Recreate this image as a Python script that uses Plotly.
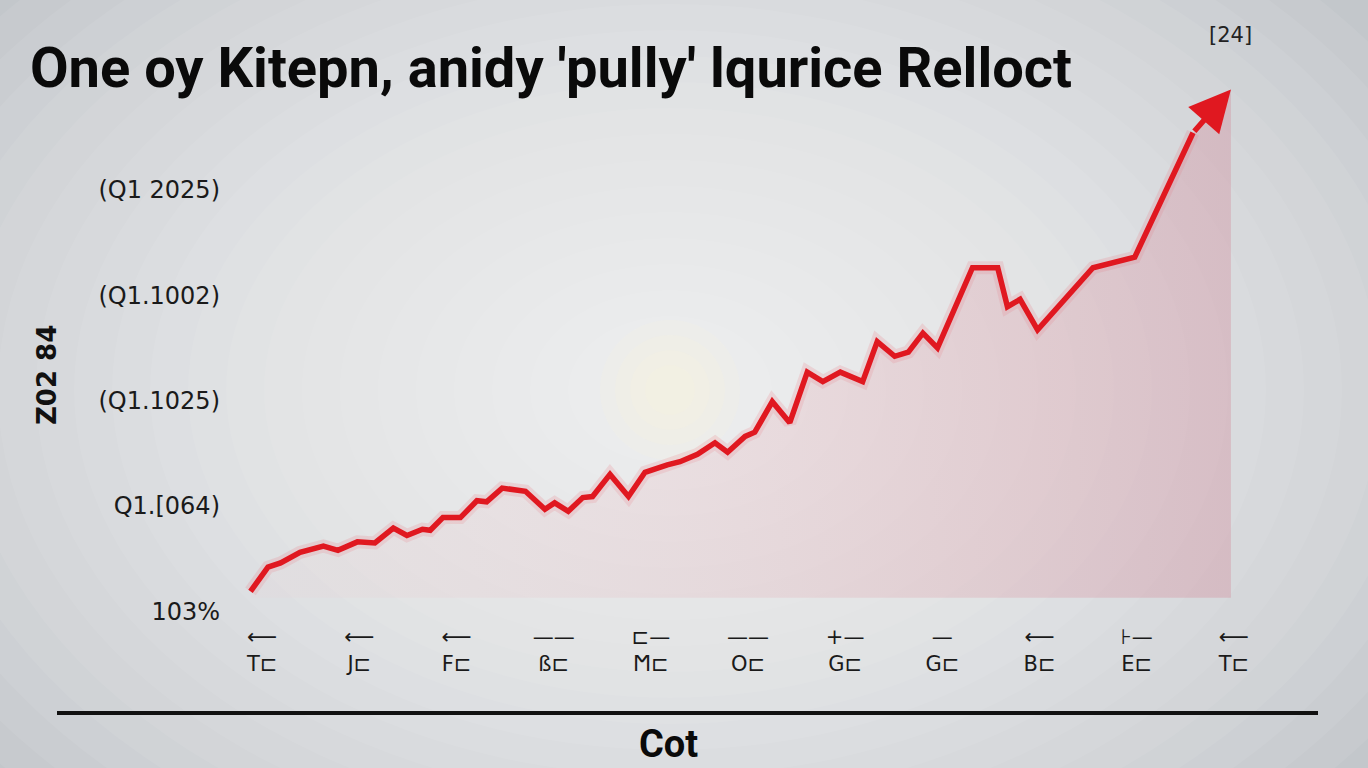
import plotly.graph_objects as go

# ---------------- data ----------------
title_text = "One oy Kitepn, anidy 'pully' lqurice Relloct"
x_tick_vals = [0, 1, 2, 3, 4, 5, 6, 7, 8, 9, 10]
x_tick_text = ["⟵<br>T⊏", "⟵<br>J⊏", "⟵<br>F⊏", "——<br>ß⊏", "⊏—<br>Ϻ⊏", "——<br>O⊏",
               "+—<br>G⊏", "—<br>G⊏", "⟵<br>B⊏", "⊦—<br>E⊏", "⟵<br>T⊏"]
y_tick_vals = [0, 1, 2, 3, 4]
y_tick_text = ["103%", "Q1.[064)", "(Q1.1025)", "(Q1.1002)", "(Q1 2025)"]

series_x = [-0.12, 0.06, 0.19, 0.39, 0.63, 0.78, 0.98, 1.16, 1.35, 1.49, 1.65, 1.73,
            1.86, 2.04, 2.21, 2.31, 2.47, 2.71, 2.91, 3.01, 3.15, 3.30, 3.40, 3.58,
            3.77, 3.94, 4.17, 4.30, 4.48, 4.66, 4.79, 4.97, 5.07, 5.25, 5.43, 5.61,
            5.77, 5.95, 6.18, 6.33, 6.51, 6.65, 6.80, 6.95, 7.31, 7.57, 7.67, 7.80,
            7.98, 8.55, 8.98, 9.58, 9.97]
series_y = [0.19, 0.42, 0.46, 0.56, 0.62, 0.58, 0.66, 0.65, 0.79, 0.72, 0.78, 0.77,
            0.89, 0.89, 1.05, 1.04, 1.17, 1.14, 0.97, 1.03, 0.95, 1.08, 1.09, 1.30,
            1.09, 1.32, 1.39, 1.42, 1.49, 1.60, 1.51, 1.66, 1.70, 1.99, 1.79, 2.27,
            2.18, 2.27, 2.18, 2.56, 2.42, 2.46, 2.64, 2.50, 3.26, 3.26, 2.89, 2.96,
            2.67, 3.26, 3.36, 4.54, 4.95]
fill_base = 0.13
y_title = "Z02 84"
x_title = "Cot"
corner_tag = "[24]"

RED = "#e01820"

# plot area geometry (px) for a 1368x768 canvas
W, H = 1368, 768
L, R, T, B = 233, 105, 79, 146

fig = go.Figure()

# soft halo behind the line
fig.add_trace(go.Scatter(x=series_x[:-1], y=series_y[:-1], mode="lines",
                         line=dict(color="rgba(235,90,100,0.16)", width=13),
                         hoverinfo="skip", showlegend=False))
# baseline for the fill
fig.add_trace(go.Scatter(x=[series_x[0], series_x[-1]], y=[fill_base, fill_base],
                         mode="lines", line=dict(width=0), hoverinfo="skip",
                         showlegend=False))
fig.add_trace(go.Scatter(x=series_x, y=series_y, mode="lines",
                         line=dict(color="rgba(0,0,0,0)", width=0),
                         fill="tonexty",
                         fillgradient=dict(type="horizontal",
                                           colorscale=[[0, "rgba(240,200,205,0.10)"],
                                                       [0.6, "rgba(225,160,170,0.25)"],
                                                       [1, "rgba(210,140,155,0.38)"]]),
                         hoverinfo="skip", showlegend=False))
# main line
fig.add_trace(go.Scatter(x=series_x[:-1], y=series_y[:-1], mode="lines",
                         line=dict(color=RED, width=5.5), showlegend=False))

# arrow head from the last segment
fig.add_annotation(x=series_x[-1], y=series_y[-1], ax=series_x[-2], ay=series_y[-2],
                   xref="x", yref="y", axref="x", ayref="y", text="",
                   showarrow=True, arrowhead=2, arrowsize=1.5, arrowwidth=5.5,
                   arrowcolor=RED, standoff=0, startstandoff=0)

# radial background glow via layered ellipses
def px_to_paper_x(px):
    return (px - L) / (W - L - R)

def px_to_paper_y(py):
    return (H - B - py) / (H - T - B)

cx, cy = 670, 390
shapes = []
n = 22
for i in range(n):
    rx = 900 - i * 38
    ry = 620 - i * 26
    shapes.append(dict(type="circle", xref="paper", yref="paper", layer="below",
                       x0=px_to_paper_x(cx - rx), x1=px_to_paper_x(cx + rx),
                       y0=px_to_paper_y(cy + ry), y1=px_to_paper_y(cy - ry),
                       fillcolor="rgba(255,255,255,0.065)", line=dict(width=0)))
for i in range(4):
    r = 70 - i * 15
    shapes.append(dict(type="circle", xref="paper", yref="paper", layer="below",
                       x0=px_to_paper_x(cx - r), x1=px_to_paper_x(cx + r),
                       y0=px_to_paper_y(cy + r), y1=px_to_paper_y(cy - r),
                       fillcolor="rgba(255,245,215,0.12)", line=dict(width=0)))
# bottom rule
shapes.append(dict(type="line", xref="paper", yref="paper",
                   x0=px_to_paper_x(57), x1=px_to_paper_x(1318),
                   y0=px_to_paper_y(713), y1=px_to_paper_y(713),
                   line=dict(color="#111111", width=4)))

fig.update_layout(
    width=W, height=H,
    margin=dict(l=L, r=R, t=T, b=B),
    paper_bgcolor="#bfc3c8",
    plot_bgcolor="rgba(0,0,0,0)",
    shapes=shapes,
    showlegend=False,
    xaxis=dict(range=[-0.3, 10.3], tickmode="array", tickvals=x_tick_vals,
               ticktext=x_tick_text, showgrid=False, zeroline=False, showline=False,
               ticks="", tickfont=dict(family="DejaVu Sans",
                                        size=21, color="#1a1a1a")),
    yaxis=dict(range=[-0.1, 5.05], tickmode="array", tickvals=y_tick_vals,
               ticktext=y_tick_text, showgrid=False, zeroline=False, showline=False,
               ticks="", ticklabelstandoff=12,
               tickfont=dict(family="DejaVu Sans", size=24, color="#1a1a1a")),
)

fig.add_annotation(text=title_text, xref="paper", yref="paper",
                   x=px_to_paper_x(28), y=px_to_paper_y(68), xanchor="left", yanchor="middle",
                   showarrow=False,
                   font=dict(family="Roboto", size=56, color="#0a0a0a", weight="bold"))
fig.add_annotation(text=corner_tag, xref="paper", yref="paper",
                   x=px_to_paper_x(1230), y=px_to_paper_y(35), xanchor="center",
                   yanchor="middle", showarrow=False,
                   font=dict(family="DejaVu Sans", size=21, color="#222222"))
fig.add_annotation(text=y_title, xref="paper", yref="paper", textangle=-90,
                   x=px_to_paper_x(47), y=px_to_paper_y(375), xanchor="center",
                   yanchor="middle", showarrow=False,
                   font=dict(family="DejaVu Sans", size=26,
                             color="#111111", weight="bold"))
fig.add_annotation(text=x_title, xref="paper", yref="paper",
                   x=px_to_paper_x(668), y=px_to_paper_y(744), xanchor="center",
                   yanchor="middle", showarrow=False,
                   font=dict(family="Roboto", size=38, color="#0a0a0a", weight="bold"))

fig.write_html("out.html", config={"displayModeBar": False},
               post_script="document.body.style.margin='0';")
